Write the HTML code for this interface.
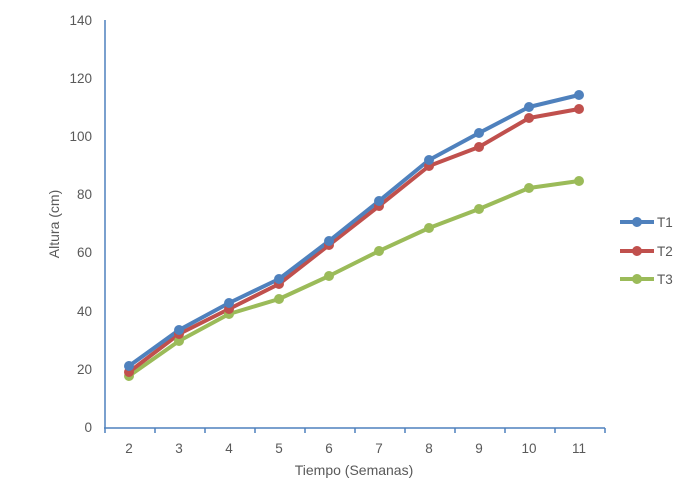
<!DOCTYPE html>
<html><head><style>
body{margin:0;background:#fff;}
svg{display:block;font-family:"Liberation Sans",sans-serif;}
</style></head><body>
<svg width="689" height="502" viewBox="0 0 689 502">
<g fill="#595959" font-size="13.5" text-anchor="end">
<text x="92" y="432">0</text><text x="92" y="374">20</text><text x="92" y="316">40</text>
<text x="92" y="257">60</text><text x="92" y="199">80</text><text x="92" y="141">100</text>
<text x="92" y="83">120</text><text x="92" y="25">140</text>
</g>
<g fill="#595959" font-size="13.5" text-anchor="middle">
<text x="129" y="453">2</text><text x="179" y="453">3</text><text x="229" y="453">4</text>
<text x="279" y="453">5</text><text x="329" y="453">6</text><text x="379" y="453">7</text>
<text x="429" y="453">8</text><text x="479" y="453">9</text><text x="529" y="453">10</text>
<text x="579" y="453">11</text>
<text x="354" y="475" font-size="14">Tiempo (Semanas)</text>
<text transform="translate(59,224) rotate(-90)" font-size="14">Altura (cm)</text>
</g>
<g stroke="#4f81bd" stroke-width="1.5" fill="none">
<line x1="105" y1="20" x2="105" y2="428"/>
<line x1="104" y1="428" x2="605" y2="428"/>
<path d="M105 428v5M155 428v5M205 428v5M255 428v5M305 428v5M355 428v5M405 428v5M455 428v5M505 428v5M555 428v5M605 428v5"/>
</g>
<g fill="none" stroke-width="4" stroke-linejoin="round">
<polyline stroke="#9bbb59" points="129,376 179,341 229,314 279,299 329,276 379,251 429,228 479,209 529,188 579,181"/>
<polyline stroke="#c0504d" points="129,372 179,334 229,309 279,284 329,245 379,206 429,166 479,147 529,118 579,109"/>
<polyline stroke="#4f81bd" points="129,366 179,330 229,303 279,279 329,241 379,201 429,160 479,133 529,107 579,95"/>
</g>
<g fill="#9bbb59"><circle cx="129" cy="376" r="5"/><circle cx="179" cy="341" r="5"/><circle cx="229" cy="314" r="5"/><circle cx="279" cy="299" r="5"/><circle cx="329" cy="276" r="5"/><circle cx="379" cy="251" r="5"/><circle cx="429" cy="228" r="5"/><circle cx="479" cy="209" r="5"/><circle cx="529" cy="188" r="5"/><circle cx="579" cy="181" r="5"/></g>
<g fill="#c0504d"><circle cx="129" cy="372" r="5"/><circle cx="179" cy="334" r="5"/><circle cx="229" cy="309" r="5"/><circle cx="279" cy="284" r="5"/><circle cx="329" cy="245" r="5"/><circle cx="379" cy="206" r="5"/><circle cx="429" cy="166" r="5"/><circle cx="479" cy="147" r="5"/><circle cx="529" cy="118" r="5"/><circle cx="579" cy="109" r="5"/></g>
<g fill="#4f81bd"><circle cx="129" cy="366" r="5"/><circle cx="179" cy="330" r="5"/><circle cx="229" cy="303" r="5"/><circle cx="279" cy="279" r="5"/><circle cx="329" cy="241" r="5"/><circle cx="379" cy="201" r="5"/><circle cx="429" cy="160" r="5"/><circle cx="479" cy="133" r="5"/><circle cx="529" cy="107" r="5"/><circle cx="579" cy="95" r="5"/></g>
<g stroke-width="4"><line x1="620" y1="222" x2="654" y2="222" stroke="#4f81bd"/><line x1="620" y1="251" x2="654" y2="251" stroke="#c0504d"/><line x1="620" y1="279" x2="654" y2="279" stroke="#9bbb59"/></g>
<circle cx="637" cy="222" r="5" fill="#4f81bd"/><circle cx="637" cy="251" r="5" fill="#c0504d"/><circle cx="637" cy="279" r="5" fill="#9bbb59"/>
<g fill="#595959" font-size="13.5"><text x="657" y="227">T1</text><text x="657" y="256">T2</text><text x="657" y="284">T3</text></g>
</svg>
</body></html>
